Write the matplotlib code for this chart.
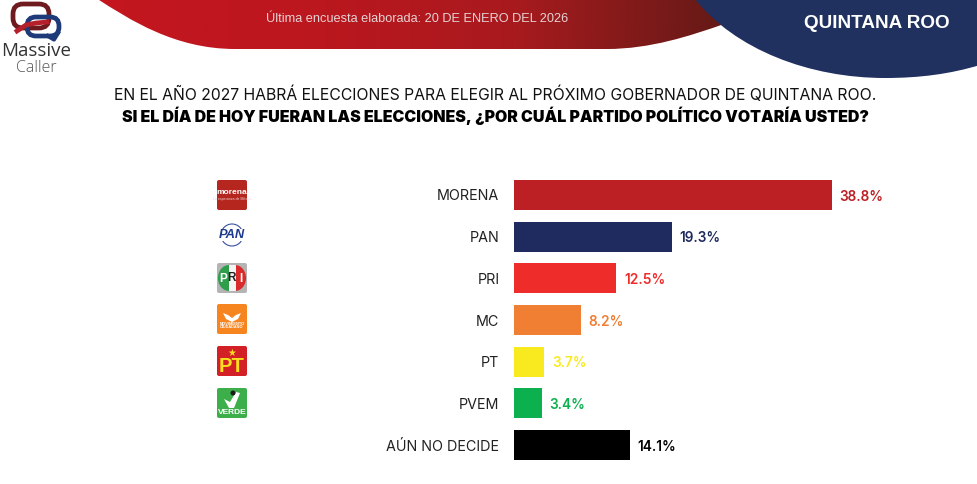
import numpy as np
import matplotlib as mpl
mpl.use('Agg')
import matplotlib.pyplot as plt
from matplotlib.colors import LinearSegmentedColormap
from matplotlib.patches import Circle, FancyBboxPatch, PathPatch, Polygon
from matplotlib.path import Path
from matplotlib.transforms import Affine2D

W, H = 978, 484

partidos = ['MORENA', 'PAN', 'PRI', 'MC', 'PT', 'PVEM', 'AÚN NO DECIDE']
valores = [38.8, 19.3, 12.5, 8.2, 3.7, 3.4, 14.1]
colores = ['#BC2025', '#1F2A5E', '#EE2C2A', '#F07F34', '#F8EA1E', '#0DB04F', '#000000']
etiquetas = ['38.8%', '19.3%', '12.5%', '8.2%', '3.7%', '3.4%', '14.1%']

titulo1 = 'EN EL AÑO 2027 HABRÁ ELECCIONES PARA ELEGIR AL PRÓXIMO GOBERNADOR DE QUINTANA ROO.'
titulo2 = 'SI EL DÍA DE HOY FUERAN LAS ELECCIONES, ¿POR CUÁL PARTIDO POLÍTICO VOTARÍA USTED?'
fecha = 'Última encuesta elaborada: 20 DE ENERO DEL 2026'
estado = 'QUINTANA ROO'

fig = plt.figure(figsize=(W / 100, H / 100), dpi=100, facecolor='white')

# fondo en coordenadas de pixel
bg = fig.add_axes([0, 0, 1, 1])
bg.axis('off')

# franja roja con degradado
rojo = Path(
    [(96, -2), (130, 20), (175, 49), (235, 49), (400, 49), (500, 49), (607, 49),
     (650, 49), (690, 36), (724, 24), (724, -2), (96, -2)],
    [Path.MOVETO, Path.CURVE4, Path.CURVE4, Path.CURVE4, Path.LINETO, Path.LINETO, Path.LINETO,
     Path.CURVE4, Path.CURVE4, Path.CURVE4, Path.LINETO, Path.CLOSEPOLY])
cmap_rojo = LinearSegmentedColormap.from_list('rojo', ['#C4161F', '#BC171F', '#A81A1E', '#651A17'])
im = bg.imshow(np.linspace(0, 1, 300)[None, :], cmap=cmap_rojo, extent=(96, 724, 50, -2), aspect='auto')
im.set_clip_path(PathPatch(rojo, transform=bg.transData))
bg.set_xlim(0, W)
bg.set_ylim(H, 0)

# franja azul
azul = Path(
    [(694, -2), (735, 50), (810, 78), (885, 78), (920, 78), (950, 74), (980, 65), (980, -2), (694, -2)],
    [Path.MOVETO, Path.CURVE4, Path.CURVE4, Path.CURVE4, Path.CURVE4, Path.CURVE4, Path.CURVE4,
     Path.LINETO, Path.CLOSEPOLY])
bg.add_patch(PathPatch(azul, fc='#20305F', ec='none'))

bg.text(417, 18.5, fecha, color='#E6D3D3', fontsize=9.2, family='Liberation Sans', ha='center', va='center')
bg.text(876.5, 23, estado, color='white', fontsize=13.6, family='Liberation Sans', weight='bold',
        ha='center', va='center')

# logo Massive Caller
bg.add_patch(FancyBboxPatch((13, 4), 36, 24, boxstyle='round,pad=0,rounding_size=10',
                            fc='none', ec='#6E1A1E', lw=3.4))
bg.add_patch(FancyBboxPatch((27, 17), 32, 19, boxstyle='round,pad=0,rounding_size=9',
                            fc='none', ec='#1F3A78', lw=3.4))
bg.plot([17, 26, 36, 47], [31, 25, 23, 22], color='#B5202A', lw=3.4)
bg.plot([48, 54, 58], [36, 39.5, 33], color='#1F3A78', lw=3)
bg.text(36, 56.5, 'Massive', color='#333333', fontsize=13.5, family='Open Sans', ha='center', va='baseline')
bg.text(36, 72.5, 'Caller', color='#555555', fontsize=11.5, family='Open Sans', weight='light', ha='center', va='baseline')

# titulos
bg.text(495.5, 94.5, titulo1, color='#111111', fontsize=11.35, family='Inter', ha='center', va='center')
bg.text(495, 115.5, titulo2, color='#000000', fontsize=11.5, family='Inter', weight='black',
        ha='center', va='center')


def cuadro(y, color, x=217, w=30, h=30):
    bg.add_patch(FancyBboxPatch((x + 2, y + 2), w - 4, h - 4, boxstyle='round,pad=2', fc=color, ec='none'))


# logos de partidos
cuadro(180, '#B5261E')
bg.text(232, 192, 'morena', color='white', fontsize=6, weight='bold', family='Liberation Sans',
        ha='center', va='center')
bg.text(232, 199, 'La esperanza de México', color='#F0D0D0', fontsize=2.5, family='Liberation Sans',
        ha='center', va='center')

bg.add_patch(Circle((232, 235), 11, fc='none', ec='#3A4FA0', lw=0.8))
bg.text(232, 235, 'PAN', color='#1C3A8E', fontsize=9.3, weight='bold', style='italic',
        family='Liberation Sans', ha='center', va='center',
        bbox=dict(fc='white', ec='none', pad=0.3))

cuadro(263, '#B4B4B4')
escala = Affine2D().scale(11, 13)
bg.add_patch(PathPatch(Path.wedge(90, 270), fc='#2E9E4A', ec='none',
                       transform=escala + Affine2D().translate(229, 278) + bg.transData))
bg.add_patch(PathPatch(Path.wedge(-90, 90), fc='#D92B2B', ec='none',
                       transform=escala + Affine2D().translate(235, 278) + bg.transData))
bg.add_patch(Polygon([(228.5, 265), (235.5, 265), (235.5, 291), (228.5, 291)], fc='#F4F4F4', ec='none'))
bg.text(223.5, 279, 'P', color='white', fontsize=8.5, weight='bold', family='Liberation Sans', ha='center', va='center')
bg.text(232, 278, 'R', color='#222222', fontsize=8.5, weight='bold', family='Liberation Sans', ha='center', va='center')
bg.text(240.5, 279, 'I', color='white', fontsize=8.5, weight='bold', family='Liberation Sans', ha='center', va='center')

cuadro(304, '#F6841F')
bg.add_patch(Polygon([(223, 313), (228, 315), (232, 318), (236, 315), (241, 313), (238, 319), (232, 322), (226, 319)],
                     fc='white', ec='none'))
bg.text(232, 325.5, 'MOVIMIENTO\nCIUDADANO', color='white', fontsize=2.8, weight='bold',
        family='Liberation Sans', ha='center', va='center', linespacing=0.9)

cuadro(346, '#D32027')
bg.text(231.5, 353, '★', color='#F8DE1C', fontsize=7, family='DejaVu Sans', ha='center', va='center')
bg.text(232, 366, 'PT', color='#F8DE1C', fontsize=14.5, weight='bold', family='Liberation Sans',
        ha='center', va='center')

cuadro(388, '#3DAF4A')
bg.add_patch(Polygon([(224, 399), (230, 402), (236, 392), (240, 393), (234, 408), (229, 408)], fc='white', ec='none'))
bg.add_patch(Circle((233, 393), 2.5, fc='#1B1B1B', ec='none'))
bg.text(232, 412.5, 'VERDE', color='white', fontsize=6, weight='bold', family='Liberation Sans',
        ha='center', va='center')

# barras
x0, y_top, y_bot = 514, 174, 466
ax = fig.add_axes([x0 / W, 1 - y_bot / H, (W - x0) / W, (y_bot - y_top) / H])
ax.patch.set_alpha(0)
pos = np.arange(len(partidos))
ax.barh(pos, valores, height=0.72, color=colores)
ax.set_xlim(0, (W - x0) / 8.196)
ax.set_ylim(6.5, -0.5)
ax.set_yticks(pos, partidos)
ax.set_xticks([])
ax.tick_params(axis='y', length=0, pad=10.5, labelsize=10.3, labelcolor='#222222')
for lab in ax.get_yticklabels():
    lab.set_family('Inter')
for s in ax.spines.values():
    s.set_visible(False)
for p, v, e, c in zip(pos, valores, etiquetas, colores):
    ax.annotate(e, (v, p), xytext=(5.5, -1.2), textcoords='offset points', color=c, fontsize=9.8,
                weight='semibold', family='Inter', va='center', ha='left')

fig.savefig('out.png', dpi=100)
